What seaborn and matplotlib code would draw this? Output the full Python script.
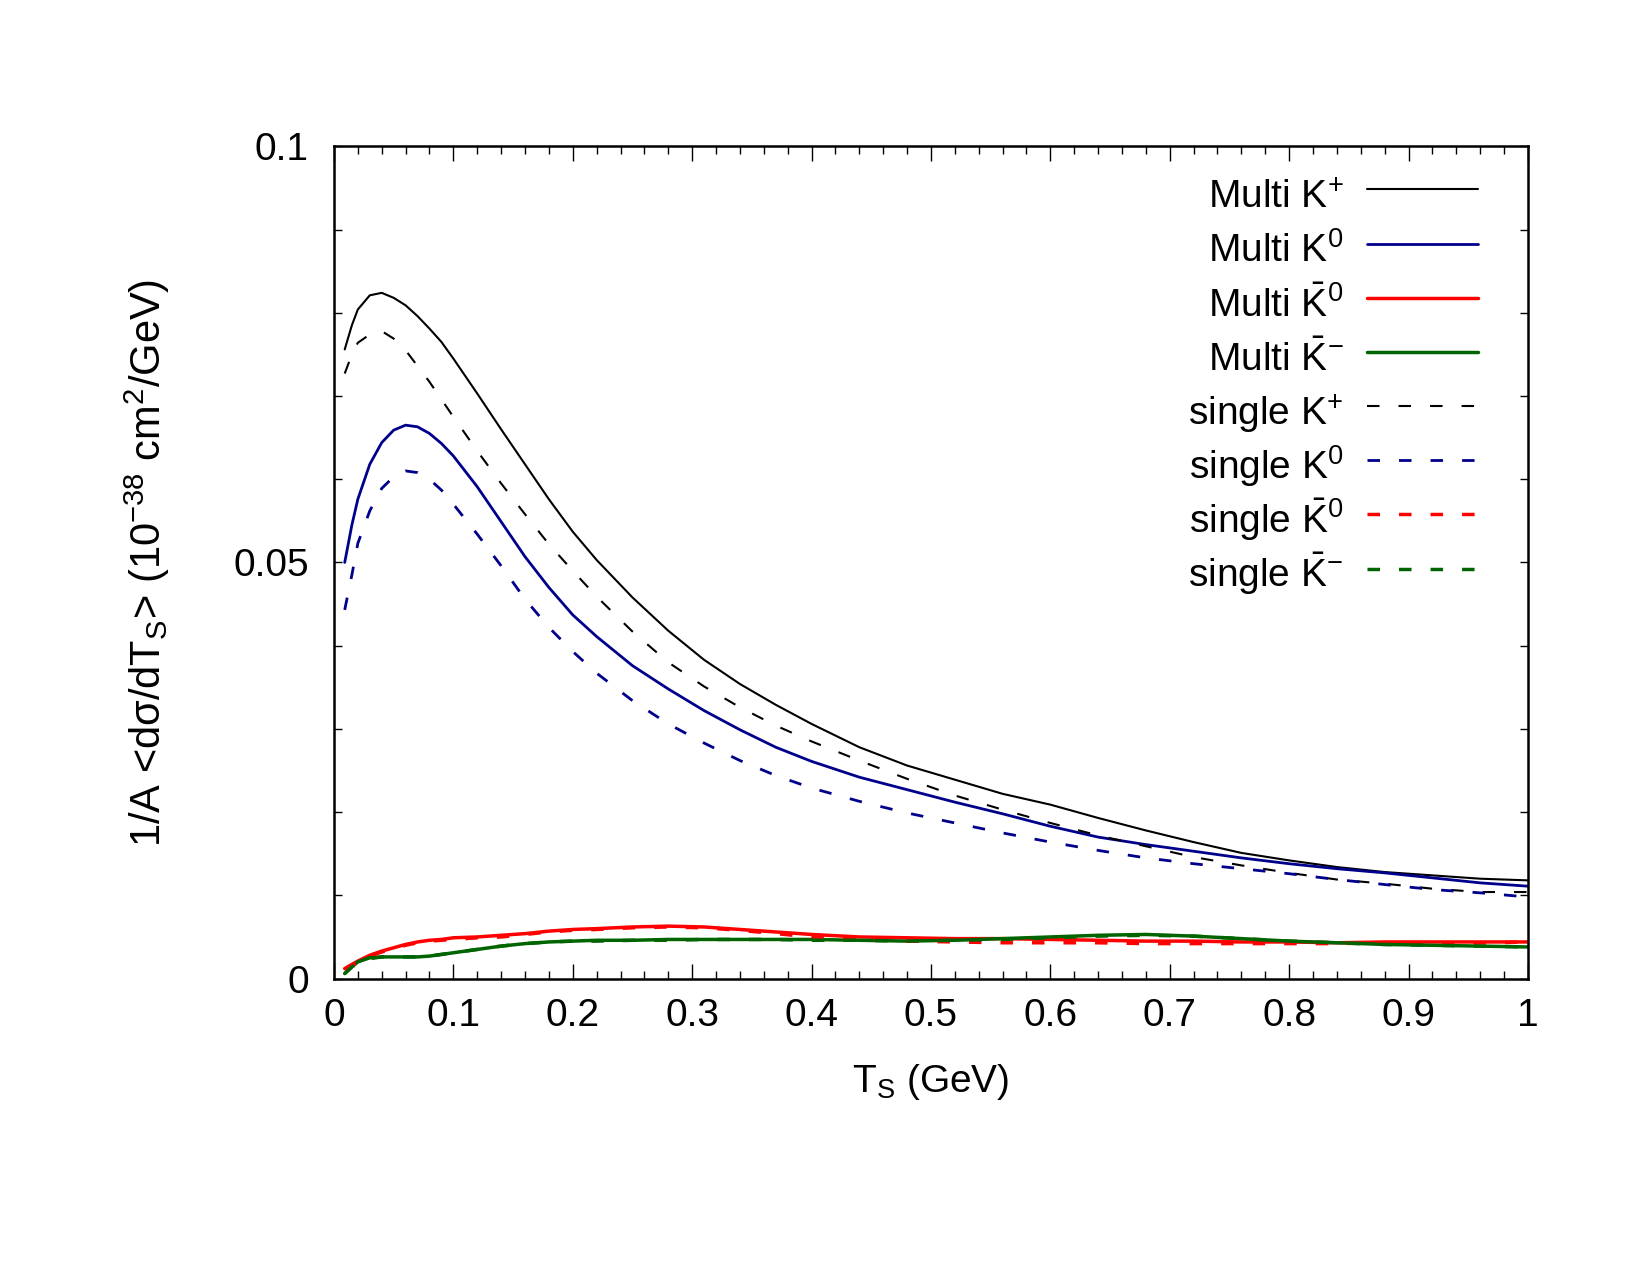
import matplotlib
matplotlib.use("Agg")
import matplotlib.pyplot as plt
import seaborn as sns
from matplotlib.ticker import MultipleLocator, FuncFormatter

# kinetic energy grid (GeV)
ts = [0.009, 0.015, 0.02, 0.03, 0.04, 0.05, 0.06, 0.07, 0.08, 0.09, 0.10,
      0.12, 0.14, 0.16, 0.18, 0.20, 0.22, 0.25, 0.28, 0.31, 0.34, 0.37,
      0.40, 0.44, 0.48, 0.52, 0.56, 0.60, 0.64, 0.68, 0.72, 0.76, 0.80,
      0.84, 0.88, 0.92, 0.96, 1.00]

# multi-strange production
multi_kplus = [0.0756, 0.0785, 0.0804, 0.0821, 0.0824, 0.0818, 0.0809, 0.0796, 0.0781, 0.0765, 0.0745,
               0.0703, 0.0660, 0.0618, 0.0576, 0.0537, 0.0503, 0.0458, 0.0418, 0.0383, 0.0354, 0.0329,
               0.0306, 0.0278, 0.0256, 0.0239, 0.0222, 0.0209, 0.0193, 0.0178, 0.0164, 0.0151, 0.0142,
               0.0134, 0.0128, 0.0124, 0.0120, 0.0118]
multi_k0 = [0.0500, 0.0545, 0.0576, 0.0618, 0.0644, 0.0659, 0.0665, 0.0663, 0.0655, 0.0643, 0.0628,
            0.0591, 0.0549, 0.0507, 0.0470, 0.0437, 0.0411, 0.0376, 0.0348, 0.0322, 0.0299, 0.0278,
            0.0261, 0.0242, 0.0227, 0.0212, 0.0198, 0.0183, 0.0170, 0.0161, 0.0153, 0.0145, 0.0138,
            0.0132, 0.0127, 0.0121, 0.0115, 0.0111]
multi_k0bar = [0.0012, 0.0017, 0.0021, 0.0028, 0.0033, 0.0037, 0.0041, 0.0044, 0.0046, 0.0047, 0.0049,
               0.0050, 0.0052, 0.0054, 0.0057, 0.0059, 0.0060, 0.0062, 0.0063, 0.0062, 0.0059, 0.0056,
               0.0053, 0.0050, 0.0049, 0.0048, 0.0048, 0.0047, 0.0046, 0.0045, 0.0045, 0.0044, 0.0044,
               0.0043, 0.0044, 0.0044, 0.0044, 0.0044]
multi_kminus = [0.0006, 0.0014, 0.0020, 0.0025, 0.0026, 0.0026, 0.0026, 0.0026, 0.0027, 0.0029, 0.0031,
                0.0035, 0.0039, 0.0042, 0.0044, 0.0045, 0.0046, 0.0046, 0.0047, 0.0047, 0.0047, 0.0047,
                0.0047, 0.0046, 0.0045, 0.0046, 0.0048, 0.0050, 0.0052, 0.0053, 0.0051, 0.0048, 0.0045,
                0.0043, 0.0041, 0.0040, 0.0039, 0.0038]

# single kaon production
single_kplus = [0.0727, 0.0750, 0.0764, 0.0774, 0.0778, 0.0769, 0.0755, 0.0736, 0.0717, 0.0696, 0.0675,
                0.0634, 0.0595, 0.0558, 0.0522, 0.0490, 0.0459, 0.0417, 0.0380, 0.0351, 0.0326, 0.0304,
                0.0285, 0.0262, 0.0240, 0.0220, 0.0203, 0.0187, 0.0172, 0.0159, 0.0146, 0.0136, 0.0127,
                0.0119, 0.0114, 0.0108, 0.0104, 0.0104]
single_k0 = [0.0443, 0.0485, 0.0523, 0.0562, 0.0589, 0.0603, 0.0610, 0.0608, 0.0600, 0.0587, 0.0570,
             0.0534, 0.0496, 0.0456, 0.0422, 0.0393, 0.0367, 0.0334, 0.0306, 0.0283, 0.0262, 0.0244,
             0.0229, 0.0213, 0.0199, 0.0187, 0.0175, 0.0164, 0.0154, 0.0145, 0.0138, 0.0132, 0.0126,
             0.0119, 0.0113, 0.0107, 0.0103, 0.0098]
single_k0bar = [0.0011, 0.0016, 0.0020, 0.0027, 0.0032, 0.0036, 0.0040, 0.0043, 0.0045, 0.0046, 0.0047,
                0.0049, 0.0050, 0.0053, 0.0056, 0.0058, 0.0059, 0.0061, 0.0062, 0.0061, 0.0058, 0.0054,
                0.0050, 0.0047, 0.0045, 0.0044, 0.0043, 0.0043, 0.0043, 0.0042, 0.0042, 0.0042, 0.0042,
                0.0042, 0.0043, 0.0043, 0.0043, 0.0044]
single_kminus = [0.0006, 0.0014, 0.0019, 0.0024, 0.0026, 0.0026, 0.0026, 0.0026, 0.0027, 0.0029, 0.0031,
                 0.0035, 0.0039, 0.0042, 0.0044, 0.0045, 0.0045, 0.0046, 0.0046, 0.0047, 0.0047, 0.0047,
                 0.0046, 0.0046, 0.0045, 0.0046, 0.0047, 0.0049, 0.0051, 0.0052, 0.0051, 0.0048, 0.0045,
                 0.0043, 0.0041, 0.0040, 0.0039, 0.0038]

labels = ["Multi K$^{+}$", "Multi K$^{0}$", r"Multi $\bar{\rm K}^{0}$", r"Multi $\bar{\rm K}^{-}$",
          "single K$^{+}$", "single K$^{0}$", r"single $\bar{\rm K}^{0}$", r"single $\bar{\rm K}^{-}$"]

sns.set_style("ticks")
plt.rcParams["font.family"] = ["Liberation Sans", "DejaVu Sans"]
plt.rcParams["mathtext.fontset"] = "custom"
plt.rcParams["mathtext.rm"] = "Liberation Sans"
plt.rcParams["mathtext.it"] = "Liberation Sans:italic"
plt.rcParams["mathtext.bf"] = "Liberation Sans:bold"
for key in ["text.color", "axes.labelcolor", "xtick.color", "ytick.color", "axes.edgecolor"]:
    plt.rcParams[key] = "black"

fig, ax = plt.subplots(figsize=(16.5, 12.75), dpi=100)
fig.subplots_adjust(left=0.2024, right=0.926, top=0.8852, bottom=0.2325)

# colour, line width, dashed?
styles = [("black", 1.5, False), ("#00008b", 2.0, False), ("#ff0000", 2.5, False), ("#006400", 2.5, False),
          ("black", 1.5, True), ("#00008b", 2.0, True), ("#ff0000", 2.5, True), ("#006400", 2.5, True)]
series = [multi_kplus, multi_k0, multi_k0bar, multi_kminus,
          single_kplus, single_k0, single_k0bar, single_kminus]

for vals, lab, (col, lw, dashed) in zip(series, labels, styles):
    kw = {"dashes": (9.0 / lw, 13.7 / lw)} if dashed else {}
    sns.lineplot(x=ts, y=vals, color=col, lw=lw, label=lab, ax=ax,
                 estimator=None, sort=False, **kw)

ax.set_xlim(0, 1)
ax.set_ylim(0, 0.1)
ax.xaxis.set_major_locator(MultipleLocator(0.1))
ax.xaxis.set_minor_locator(MultipleLocator(0.02))
ax.yaxis.set_major_locator(MultipleLocator(0.05))
ax.yaxis.set_minor_locator(MultipleLocator(0.01))
fmt = FuncFormatter(lambda v, p: f"{v:.2f}".rstrip("0").rstrip(".") if v else "0")
ax.xaxis.set_major_formatter(fmt)
ax.yaxis.set_major_formatter(fmt)

ax.tick_params(which="both", direction="in", top=True, right=True, color="black", width=1)
ax.tick_params(axis="x", which="major", length=11, labelsize=28, pad=14)
ax.tick_params(axis="x", which="minor", length=5.5)
ax.tick_params(axis="y", which="both", length=5.5, labelsize=28, pad=18)
for sp in ax.spines.values():
    sp.set_linewidth(1.8)
    sp.set_color("black")

ax.set_xlabel("T$_{\\rm S}$ (GeV)", fontsize=28)
ax.set_ylabel("1/A <dσ/dT$_{\\rm S}$> (10$^{-38}$ cm$^{2}$/GeV)", fontsize=30)
ax.xaxis.set_label_coords(0.5, -0.1)
ax.yaxis.set_label_coords(-0.136, 0.5)

# tall handle boxes keep the row pitch even regardless of descenders
ax.legend(loc="upper right", bbox_to_anchor=(0.958, 0.971), frameon=False,
          markerfirst=False, fontsize=28, handlelength=2.85, handletextpad=0.6,
          handleheight=1.6, labelspacing=0.108, borderpad=0, borderaxespad=0)

fig.savefig("out.png", dpi=100)
